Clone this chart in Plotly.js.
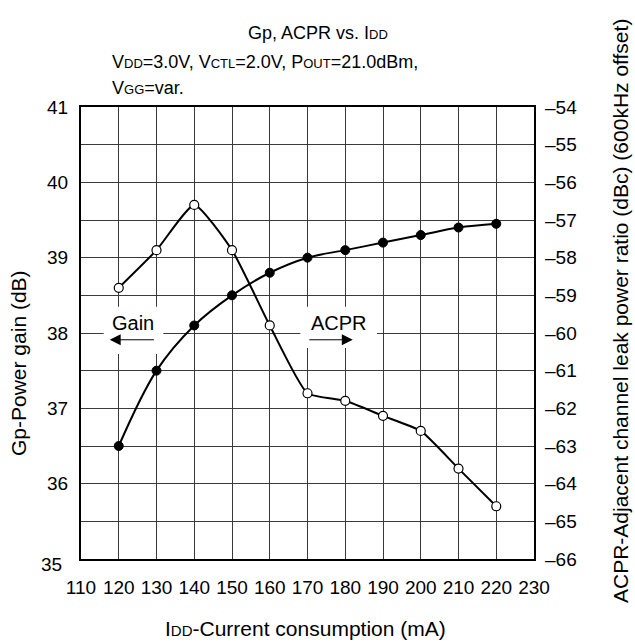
<!DOCTYPE html>
<html>
<head>
<meta charset="utf-8">
<script src="https://cdn.plot.ly/plotly-3.0.1.min.js"></script>
<style>html,body{margin:0;padding:0;background:#fff;}#chart{width:635px;height:644px;}</style>
</head>
<body>
<div id="chart"></div>
<script>
const currents = [120, 130, 140, 150, 160, 170, 180, 190, 200, 210, 220];
const gainDb = [36.5, 37.5, 38.1, 38.5, 38.8, 39.0, 39.1, 39.2, 39.3, 39.4, 39.45];
const acprDbc = [-58.8, -57.8, -56.6, -57.8, -59.8, -61.6, -61.8, -62.2, -62.6, -63.6, -64.6];
const xTicks = [110, 120, 130, 140, 150, 160, 170, 180, 190, 200, 210, 220, 230];
const gainTicks = [36, 37, 38, 39, 40, 41];
const acprTicks = [-66, -65, -64, -63, -62, -61, -60, -59, -58, -57, -56, -55, -54];

const FONT = 'Liberation Sans, Arial, sans-serif';
const sc = (s, n) => '<span style="font-size:' + (n || 13) + 'px">' + s + '</span>';

// plot area in pixels
const L = 81, R = 534, T = 107, B = 559;
const px = x => (x - L) / (R - L);
const py = y => (B - y) / (B - T);

const traces = [
  {
    x: currents, y: gainDb, yaxis: 'y', type: 'scatter', mode: 'lines+markers',
    line: {color: '#000', width: 2, shape: 'spline', smoothing: 1},
    marker: {color: '#000', size: 9, line: {color: '#000', width: 1}},
    showlegend: false, hoverinfo: 'skip'
  },
  {
    x: currents, y: acprDbc, yaxis: 'y2', type: 'scatter', mode: 'lines+markers',
    line: {color: '#000', width: 2, shape: 'spline', smoothing: 0.5},
    marker: {color: '#fff', size: 9, line: {color: '#000', width: 1.2}},
    showlegend: false, hoverinfo: 'skip'
  }
];

const layout = {
  width: 635, height: 644,
  margin: {l: L, r: 635 - R, t: T, b: 644 - B},
  paper_bgcolor: '#fff', plot_bgcolor: '#fff',
  font: {family: FONT, size: 19, color: '#000'},
  showlegend: false,
  xaxis: {
    range: [110, 230], tickvals: xTicks, ticktext: xTicks.map(String),
    showgrid: true, gridcolor: '#3a3a3a', gridwidth: 1,
    showline: true, linecolor: '#000', linewidth: 2, mirror: true,
    ticks: '', zeroline: false, tickfont: {size: 19}, ticklabelstandoff: 10
  },
  yaxis: {
    range: [35, 41], tickvals: gainTicks, ticktext: gainTicks.map(String),
    showgrid: false,
    showline: true, linecolor: '#000', linewidth: 2, mirror: true,
    ticks: '', zeroline: false, tickfont: {size: 19}, ticklabelstandoff: 7
  },
  yaxis2: {
    range: [-66, -54], tickvals: acprTicks, ticktext: acprTicks.map(v => '\u2013' + Math.abs(v)),
    overlaying: 'y', side: 'right',
    showgrid: true, gridcolor: '#3a3a3a', gridwidth: 1,
    showline: false, ticks: '', zeroline: false, tickfont: {size: 19}, ticklabelstandoff: 10
  },
  shapes: [
    {type: 'rect', xref: 'x', yref: 'y', x0: 116, x1: 131.8, y0: 37.72, y1: 38.35,
     fillcolor: '#fff', line: {width: 0}, layer: 'between'},
    {type: 'rect', xref: 'x', yref: 'y', x0: 168.1, x1: 188.4, y0: 37.8, y1: 38.35,
     fillcolor: '#fff', line: {width: 0}, layer: 'between'}
  ],
  annotations: [
    {xref: 'paper', yref: 'paper', x: px(318), y: py(33), xanchor: 'center', yanchor: 'middle',
     showarrow: false, text: 'Gp, ACPR vs. I' + sc('DD'), font: {size: 18}},
    {xref: 'paper', yref: 'paper', x: px(110), y: py(62), xanchor: 'left', yanchor: 'middle',
     showarrow: false,
     text: 'V' + sc('DD') + '=3.0V, V' + sc('CTL') + '=2.0V, P' + sc('OUT') + '=21.0dBm,',
     font: {size: 18}},
    {xref: 'paper', yref: 'paper', x: px(110), y: py(88), xanchor: 'left', yanchor: 'middle',
     showarrow: false, text: 'V' + sc('GG') + '=var.', font: {size: 18}},
    {xref: 'paper', yref: 'y', x: 0, xshift: -17, y: 35, yshift: -5, xanchor: 'right', yanchor: 'middle',
     showarrow: false, text: '35', font: {size: 19}},
    {xref: 'x', yref: 'y', x: 123.9, y: 38.13, showarrow: false, text: 'Gain', font: {size: 20}},
    {xref: 'x', yref: 'y', x: 178.3, y: 38.13, showarrow: false, text: 'ACPR', font: {size: 20}},
    {xref: 'x', yref: 'y', x: 117.6, y: 37.91, axref: 'x', ayref: 'y', ax: 129.7, ay: 37.91,
     showarrow: true, arrowhead: 2, arrowsize: 2.2, arrowwidth: 1, arrowcolor: '#000', text: ''},
    {xref: 'x', yref: 'y', x: 182.0, y: 37.91, axref: 'x', ayref: 'y', ax: 170.1, ay: 37.91,
     showarrow: true, arrowhead: 2, arrowsize: 2.2, arrowwidth: 1, arrowcolor: '#000', text: ''},
    {xref: 'paper', yref: 'paper', x: px(305), y: py(628), xanchor: 'center', yanchor: 'middle',
     showarrow: false, text: 'I' + sc('DD', 15) + '-Current consumption (mA)', font: {size: 21}},
    {xref: 'paper', yref: 'paper', x: px(18), y: py(363), xanchor: 'center', yanchor: 'middle',
     textangle: -90, showarrow: false, text: 'Gp-Power gain (dB)', font: {size: 21}},
    {xref: 'paper', yref: 'paper', x: px(620), y: py(311), xanchor: 'center', yanchor: 'middle',
     textangle: -90, showarrow: false,
     text: 'ACPR-Adjacent channel leak power ratio (dBc) (600kHz offset)', font: {size: 21}}
  ]
};

Plotly.newPlot('chart', traces, layout, {staticPlot: true, displayModeBar: false});
</script>
</body>
</html>
